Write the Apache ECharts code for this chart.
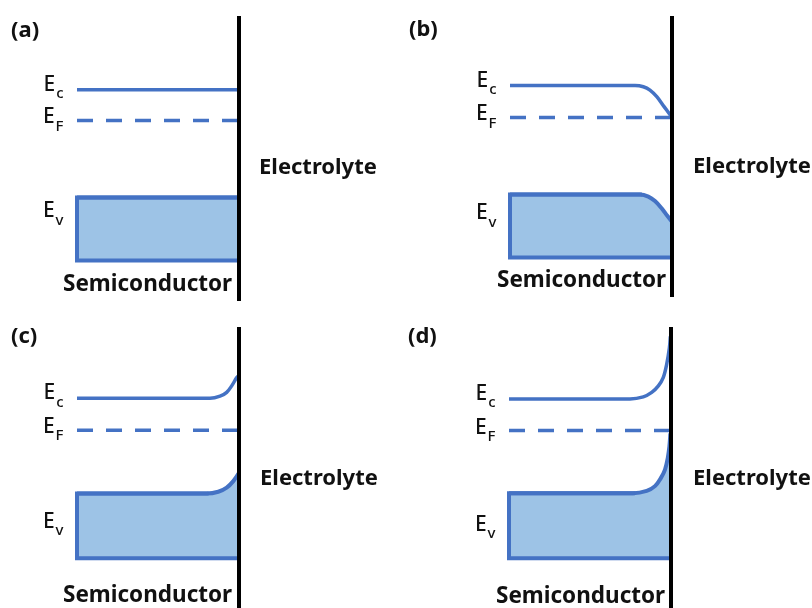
<!DOCTYPE html>
<html><head><meta charset="utf-8">
<script src="https://cdn.jsdelivr.net/npm/echarts@6/dist/echarts.min.js"></script>
<style>html,body{margin:0;padding:0;background:#fff}#c{width:812px;height:608px}</style>
</head><body><div id="c"></div>
<script>
// ---- data (energy in arbitrary units, x = normalised depth; 1 = interface) ----
const panelTags = ['(a)', '(b)', '(c)', '(d)'];
const leftText = 'Semiconductor';
const rightText = 'Electrolyte';

const ecA = [[0, 7.04], [1, 7.04]];
const efA = [[0, 6.02], [1, 6.02]];
const evA = [[0, 3.45], [1, 3.45]];
const baseA = 1.35;
const ifaceA = [[1, 0], [1, 9.5]];

const ecB = [[0, 7.18], [0.772, 7.18], [0.823, 7.14], [0.864, 7.03], [0.906, 6.81], [0.951, 6.48], [1, 6.12]];
const efB = [[0, 6.12], [1, 6.12]];
const evB = [[0, 3.55], [0.802, 3.55], [0.854, 3.48], [0.895, 3.33], [0.936, 3.09], [0.971, 2.84], [1, 2.64]];
const baseB = 1.45;
const ifaceB = [[1, 0.13], [1, 9.5]];

const ecC = [[0, 7.09], [0.821, 7.09], [0.883, 7.16], [0.924, 7.29], [0.955, 7.51], [0.986, 7.79], [1, 7.87]];
const efC = [[0, 6.01], [1, 6.01]];
const evC = [[0, 3.87], [0.80, 3.87], [0.872, 3.93], [0.924, 4.07], [0.965, 4.29], [1, 4.57]];
const baseC = 1.68;
const ifaceC = [[1, 0], [1, 9.5]];

const ecD = [[0, 7.07], [0.747, 7.07], [0.829, 7.14], [0.881, 7.29], [0.922, 7.51], [0.952, 7.79], [0.973, 8.23], [0.99, 8.79], [0.996, 9.18]];
const efD = [[0, 6.0], [1, 6.0]];
const evD = [[0, 3.88], [0.765, 3.88], [0.85, 3.96], [0.901, 4.12], [0.938, 4.4], [0.963, 4.68], [0.98, 5.07], [0.99, 5.46], [0.996, 5.9]];
const baseD = 1.68;
const ifaceD = [[1, 0], [1, 9.5]];

const panels = [
  { ec: ecA, ef: efA, ev: evA, base: baseA, iface: ifaceA },
  { ec: ecB, ef: efB, ev: evB, base: baseB, iface: ifaceB },
  { ec: ecC, ef: efC, ev: evC, base: baseC, iface: ifaceC },
  { ec: ecD, ef: efD, ev: evD, base: baseD, iface: ifaceD }
];

// ---- layout / style ----
const FONT = '"Noto Sans", "Open Sans", sans-serif';
const BLUE = '#4472C4';
const FILL = '#9DC3E6';
const layout = [
  { left: 77,  top: 16,  tag: [11, 31],  elec: [259, 168], semi: [63, 285], evDy: 17 },
  { left: 510, top: 16,  tag: [409, 30], elec: [693, 167], semi: [497, 281], evDy: 22 },
  { left: 77,  top: 327, tag: [11, 337], elec: [260, 479], semi: [63, 596], evDy: 31 },
  { left: 509, top: 327, tag: [408, 337], elec: [693, 479], semi: [496, 597], evDy: 35 }
];

const rich = {
  E: { fontSize: 21, fontFamily: FONT, fontWeight: 500, color: '#111', verticalAlign: 'top' },
  s: { fontSize: 15, fontFamily: FONT, fontWeight: 500, color: '#111', verticalAlign: 'top', padding: [12, 0, 0, 1] }
};
function labelled(pt, sub, dy) {
  return {
    value: pt, symbol: 'circle', symbolSize: 1,
    itemStyle: { color: 'rgba(0,0,0,0)' },
    label: { show: true, position: 'left', distance: 13, offset: [0, dy],
      formatter: '{E|E}{s|' + sub + '}', rich: rich }
  };
}

const grid = [], xAxis = [], yAxis = [], series = [], graphic = [];
panels.forEach((p, i) => {
  const L = layout[i];
  grid.push({ left: L.left, top: L.top, width: 162, height: 285 });
  xAxis.push({ type: 'value', gridIndex: i, min: 0, max: 1, show: false });
  yAxis.push({ type: 'value', gridIndex: i, min: 0, max: 9.5, show: false });
  const common = { type: 'line', xAxisIndex: i, yAxisIndex: i, clip: false, silent: true, symbol: 'none' };
  // valence band filled region
  series.push(Object.assign({}, common, {
    data: p.ev.map((pt, k) => k === 0 ? labelled(pt, 'v', L.evDy) : pt),
    smooth: 0.35,
    lineStyle: { color: BLUE, width: 4 },
    areaStyle: { color: FILL, opacity: 1, origin: p.base },
    z: 2
  }));
  // box outline (left + bottom)
  series.push(Object.assign({}, common, {
    data: [[1, p.base], [0, p.base], p.ev[0], p.ev[1]],
    lineStyle: { color: BLUE, width: 4, join: 'miter', cap: 'square' },
    z: 3
  }));
  // conduction band
  series.push(Object.assign({}, common, {
    data: p.ec.map((pt, k) => k === 0 ? labelled(pt, 'c', -2) : pt),
    smooth: 0.35,
    lineStyle: { color: BLUE, width: 3.5 },
    z: 3
  }));
  // Fermi level
  series.push(Object.assign({}, common, {
    data: p.ef.map((pt, k) => k === 0 ? labelled(pt, 'F', 0) : pt),
    lineStyle: { color: BLUE, width: 3.5, type: [16, 13] },
    z: 3
  }));
  // interface
  series.push(Object.assign({}, common, {
    data: p.iface,
    lineStyle: { color: '#000', width: 4 },
    z: 5
  }));
  graphic.push({ type: 'text', x: L.tag[0], y: L.tag[1],
    style: { text: panelTags[i], font: 'bold 22px ' + FONT, fill: '#111', align: 'left', verticalAlign: 'middle' } });
  graphic.push({ type: 'text', x: L.elec[0], y: L.elec[1],
    style: { text: rightText, font: 'bold 22px ' + FONT, fill: '#111', align: 'left', verticalAlign: 'middle' } });
  graphic.push({ type: 'text', x: L.semi[0], y: L.semi[1],
    style: { text: leftText, font: 'bold 22.5px ' + FONT, fill: '#111', align: 'left', verticalAlign: 'middle' }, z: 10 });
});

const chart = echarts.init(document.getElementById('c'), null, { renderer: 'canvas' });
chart.setOption({ animation: false, backgroundColor: '#fff', grid, xAxis, yAxis, series, graphic });
</script></body></html>
